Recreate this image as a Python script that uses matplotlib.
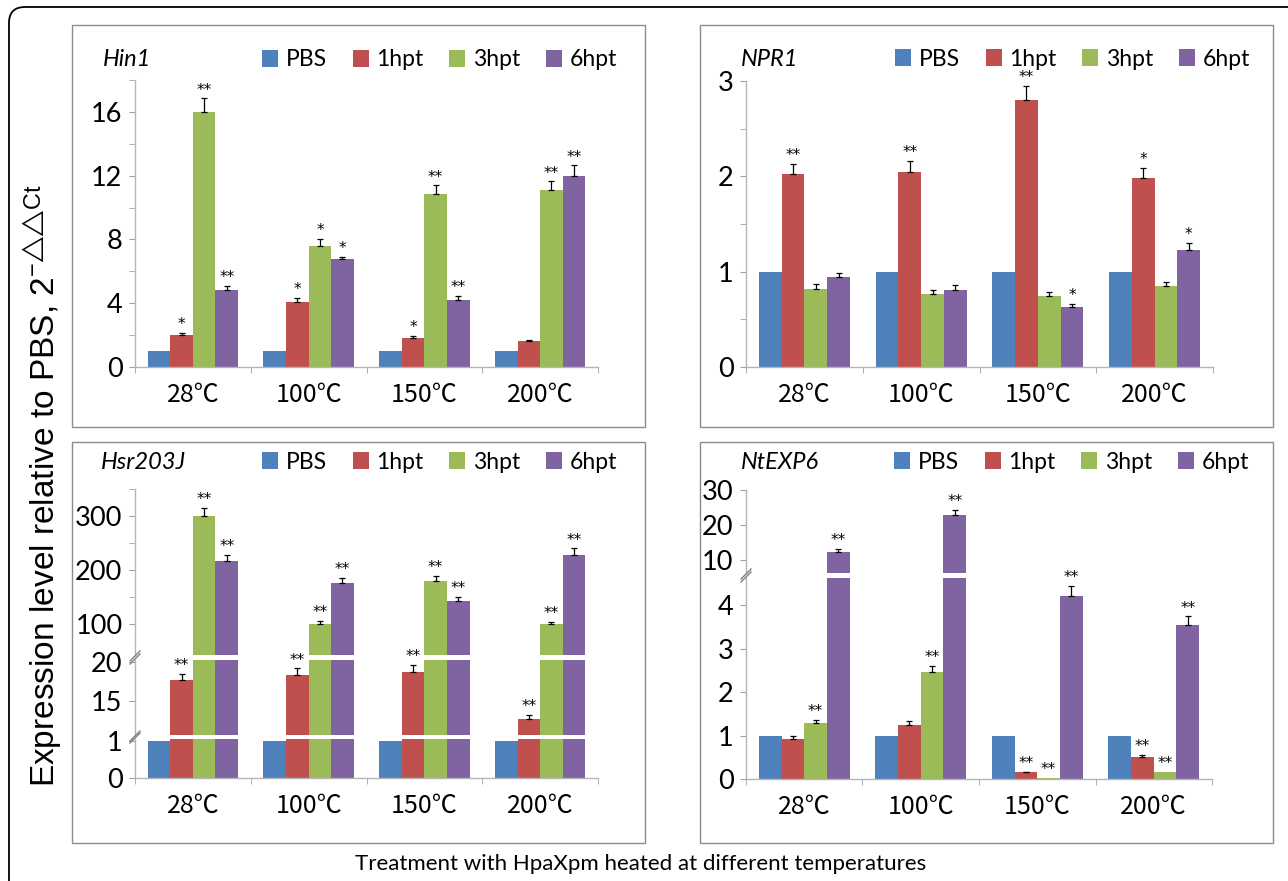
import matplotlib
matplotlib.use('Agg')
import matplotlib.pyplot as plt
import numpy as np
from matplotlib.patches import Rectangle, FancyBboxPatch, Patch
from matplotlib.lines import Line2D

plt.rcParams['font.family'] = ['Lato', 'Noto Sans CJK SC', 'DejaVu Sans']
plt.rcParams['mathtext.fontset'] = 'custom'
plt.rcParams['mathtext.rm'] = 'Liberation Sans'
plt.rcParams['mathtext.it'] = 'Liberation Sans'

W, H = 1288, 881

# ---------------- data ----------------
categories = ['28℃', '100℃', '150℃', '200℃']
series = ['PBS', '1hpt', '3hpt', '6hpt']
colors = ['#4F81BD', '#C0504D', '#9BBB59', '#8064A2']

hin1_pbs = [1, 1, 1, 1]
hin1_1hpt = [2.0, 4.1, 1.85, 1.6]
hin1_3hpt = [16.0, 7.6, 10.85, 11.1]
hin1_6hpt = [4.8, 6.75, 4.2, 12.0]
hin1_err_1hpt = [0.15, 0.25, 0.12, 0.1]
hin1_err_3hpt = [0.85, 0.45, 0.55, 0.55]
hin1_err_6hpt = [0.3, 0.15, 0.25, 0.65]
hin1_sig_1hpt = ['*', '*', '*', '']
hin1_sig_3hpt = ['**', '*', '**', '**']
hin1_sig_6hpt = ['**', '*', '**', '**']

npr1_pbs = [1, 1, 1, 1]
npr1_1hpt = [2.02, 2.05, 2.8, 1.98]
npr1_3hpt = [0.82, 0.77, 0.745, 0.85]
npr1_6hpt = [0.94, 0.81, 0.63, 1.23]
npr1_err_1hpt = [0.11, 0.11, 0.15, 0.11]
npr1_err_3hpt = [0.055, 0.04, 0.045, 0.04]
npr1_err_6hpt = [0.05, 0.05, 0.035, 0.07]
npr1_sig_1hpt = ['**', '**', '**', '*']
npr1_sig_3hpt = ['', '', '', '']
npr1_sig_6hpt = ['', '', '*', '*']

hsr_pbs = [1, 1, 1, 1]
hsr_1hpt = [17.7, 18.3, 18.75, 12.8]
hsr_3hpt = [300, 100, 179, 99]
hsr_6hpt = [217, 175, 142, 227]
hsr_err_1hpt = [0.75, 0.85, 0.85, 0.5]
hsr_err_3hpt = [15, 5, 10, 5]
hsr_err_6hpt = [11, 10, 8, 13]
hsr_sig_1hpt = ['**', '**', '**', '**']
hsr_sig_3hpt = ['**', '**', '**', '**']
hsr_sig_6hpt = ['**', '**', '**', '**']

exp6_pbs = [1, 1, 1, 1]
exp6_1hpt = [0.92, 1.25, 0.15, 0.51]
exp6_3hpt = [1.29, 2.46, 0.03, 0.16]
exp6_6hpt = [12.3, 22.8, 4.22, 3.55]
exp6_err_1hpt = [0.06, 0.08, 0.02, 0.05]
exp6_err_3hpt = [0.08, 0.15, 0.0, 0.0]
exp6_err_6hpt = [0.9, 1.5, 0.23, 0.2]
exp6_sig_1hpt = ['', '', '**', '**']
exp6_sig_3hpt = ['**', '**', '**', '**']
exp6_sig_6hpt = ['**', '**', '**', '**']

# ---------------- layout ----------------
fig = plt.figure(figsize=(W / 100, H / 100), dpi=100)
fig.patch.set_facecolor('white')

GRAY_SPINE = '#B5B5B5'
GRAY_TICK = '#A0A0A0'
BW = 0.195
XFONT = ['Noto Sans CJK SC', 'DejaVu Sans']


def fax(l, t, r, b):
    return fig.add_axes([l / W, 1 - b / H, (r - l) / W, (b - t) / H])


def fig_line(xs, ys, **kw):
    fig.add_artist(Line2D([x / W for x in xs], [1 - y / H for y in ys],
                          transform=fig.transFigure, **kw))


def draw_panel(box, xl, xr, segs, data, errs, sigs, gene, gene_x, leg_right, head_y):
    l, t, r, b = box
    fig.add_artist(Rectangle((l / W, 1 - b / H), (r - l) / W, (b - t) / H,
                             transform=fig.transFigure, fill=False,
                             ec='#8C8C8C', lw=1.0))
    x = np.arange(len(categories))
    nseg = len(segs)
    for si, (st, sb, ylim, major, minor) in enumerate(segs):
        ax = fax(xl, st, xr, sb)
        ax.set_facecolor('none')
        ax.set_xlim(-0.5, len(categories) - 0.5)
        ax.set_ylim(*ylim)
        for k in range(4):
            xs = x + (k - 1.5) * BW
            ax.bar(xs, data[k], BW, color=colors[k], lw=0, zorder=2)
            if errs[k] is not None:
                e = np.array(errs[k], dtype=float)
                m = e > 0
                ax.errorbar(xs[m], np.array(data[k])[m],
                            yerr=[np.zeros(m.sum()), e[m]], fmt='none',
                            ecolor='black', elinewidth=0.9, capsize=2.5,
                            capthick=0.9, zorder=3)
            if sigs[k] is not None:
                for j in range(len(categories)):
                    s = sigs[k][j]
                    if not s:
                        continue
                    top = data[k][j] + (errs[k][j] if errs[k] is not None else 0)
                    if ylim[0] <= top <= ylim[1]:
                        ax.annotate(s, (xs[j], top), xytext=(0, 0.5),
                                    textcoords='offset points', ha='center',
                                    va='bottom', fontsize=11,
                                    family='DejaVu Sans', annotation_clip=False)
        for sp in ['top', 'right']:
            ax.spines[sp].set_visible(False)
        ax.spines['left'].set_color(GRAY_SPINE)
        ax.spines['left'].set_linewidth(1.0)
        ax.set_yticks(major)
        ax.set_yticks(minor, minor=True)
        ax.tick_params(axis='y', which='both', direction='out', length=4,
                       color=GRAY_TICK, labelsize=19.5, pad=5)
        if si == nseg - 1:
            ax.spines['bottom'].set_color(GRAY_SPINE)
            ax.spines['bottom'].set_linewidth(1.0)
            ax.set_xticks(x)
            ax.set_xticks(np.arange(-0.5, len(categories)), minor=True)
            ax.tick_params(axis='x', which='major', length=0, labelsize=18, pad=11)
            ax.tick_params(axis='x', which='minor', length=4, color=GRAY_TICK,
                           direction='out')
            ax.set_xticklabels(categories)
            for lbl in ax.get_xticklabels():
                lbl.set_fontfamily(XFONT)
        else:
            ax.spines['bottom'].set_visible(False)
            ax.set_xticks([])
    # break marks
    for si in range(nseg - 1):
        yb = segs[si][1]
        yt = segs[si + 1][0]
        for yy in (yb + 1, yt - 1):
            fig_line([xl - 5, xl + 5], [yy + 5, yy - 5], color='#7F7F7F', lw=1.0)
    # header
    fig.text(gene_x / W, 1 - head_y / H, gene, fontsize=17, style='italic',
             ha='left', va='center', family=['Lato', 'DejaVu Sans'])
    handles = [Patch(fc=c, ec='none') for c in colors]
    fig.legend(handles, series, loc='center right',
               bbox_to_anchor=(leg_right / W, 1 - head_y / H),
               bbox_transform=fig.transFigure, ncol=4, frameon=False,
               fontsize=16.5, handlelength=0.7, handleheight=0.7,
               handletextpad=0.35, columnspacing=1.1, borderpad=0,
               borderaxespad=0)


# outer rounded border
fig.add_artist(FancyBboxPatch((9 / 100, -1.0), 14.0, (H - 7) / 100 + 1.0,
                              boxstyle='round,pad=0,rounding_size=0.16',
                              transform=fig.dpi_scale_trans, fill=False,
                              ec='black', lw=1.3))

# Hin1
draw_panel((72, 25, 645, 427), 135, 598,
           [(80, 367, (0, 18), [0, 4, 8, 12, 16], [2, 6, 10, 14, 18])],
           [hin1_pbs, hin1_1hpt, hin1_3hpt, hin1_6hpt],
           [None, hin1_err_1hpt, hin1_err_3hpt, hin1_err_6hpt],
           [None, hin1_sig_1hpt, hin1_sig_3hpt, hin1_sig_6hpt],
           'Hin1', 103, 617, 60)

# NPR1
draw_panel((700, 25, 1273, 427), 746, 1213,
           [(81, 367, (0, 3), [0, 1, 2, 3], [0.5, 1.5, 2.5])],
           [npr1_pbs, npr1_1hpt, npr1_3hpt, npr1_6hpt],
           [None, npr1_err_1hpt, npr1_err_3hpt, npr1_err_6hpt],
           [None, npr1_sig_1hpt, npr1_sig_3hpt, npr1_sig_6hpt],
           'NPR1', 741, 1250, 59)

# Hsr203J (broken axis)
draw_panel((72, 442, 645, 843), 135, 598,
           [(489, 655, (42, 350), [100, 200, 300], [150, 250, 350]),
            (660, 735, (10.8, 20.2), [15, 20], []),
            (739, 778, (0, 1.06), [0, 1], [])],
           [hsr_pbs, hsr_1hpt, hsr_3hpt, hsr_6hpt],
           [None, hsr_err_1hpt, hsr_err_3hpt, hsr_err_6hpt],
           [None, hsr_sig_1hpt, hsr_sig_3hpt, hsr_sig_6hpt],
           'Hsr203J', 101, 617, 462)

# NtEXP6 (broken axis)
draw_panel((700, 442, 1273, 843), 746, 1212,
           [(490, 573, (6.4, 30), [10, 20, 30], []),
            (578, 779, (0, 4.63), [0, 1, 2, 3, 4], [])],
           [exp6_pbs, exp6_1hpt, exp6_3hpt, exp6_6hpt],
           [None, exp6_err_1hpt, exp6_err_3hpt, exp6_err_6hpt],
           [None, exp6_sig_1hpt, exp6_sig_3hpt, exp6_sig_6hpt],
           'NtEXP6', 741, 1249, 462)

# shared labels
fig.text(43 / W, 1 - 486 / H,
         'Expression level relative to PBS, 2$^{-\u25b3\u25b3\\mathrm{Ct}}$',
         rotation=90, ha='center', va='center', fontsize=24,
         family=['Liberation Sans', 'DejaVu Sans'])
fig.text(641 / W, 1 - 864 / H,
         'Treatment with HpaXpm heated at different temperatures',
         ha='center', va='center', fontsize=16)

fig.savefig('out.png', dpi=100)
